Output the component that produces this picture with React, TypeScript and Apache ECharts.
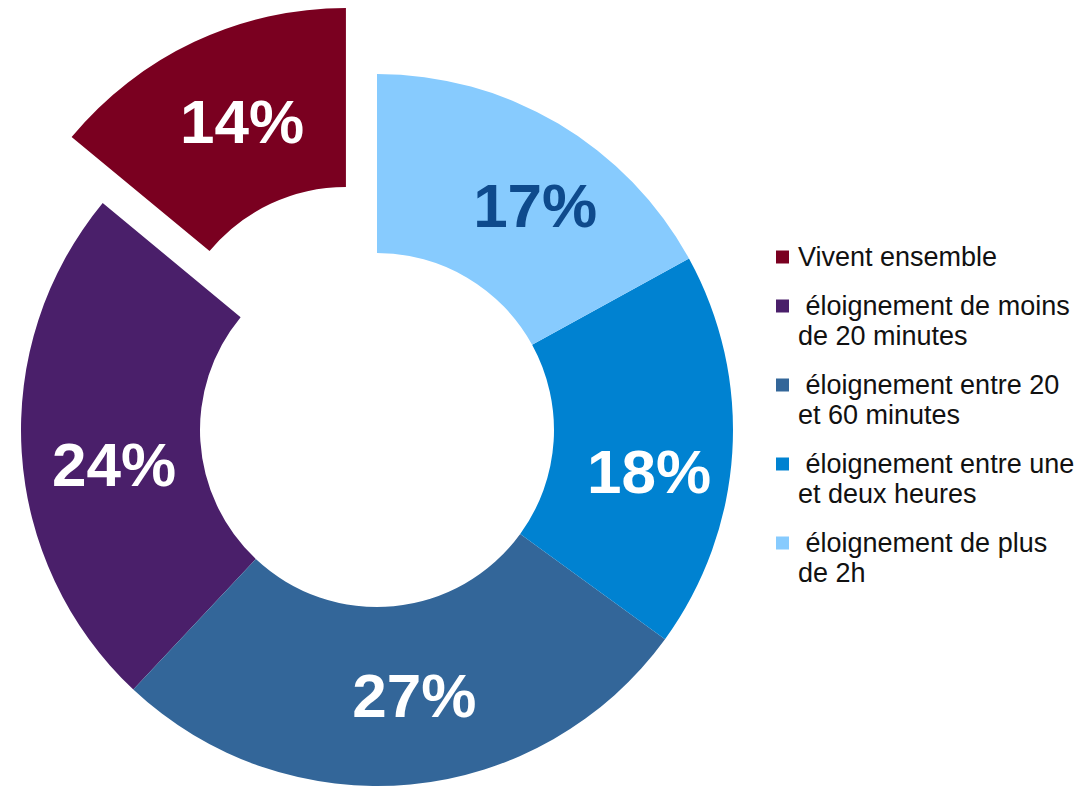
import React, { useEffect, useRef } from "react";
import * as echarts from "echarts";

const categories = [
  "Vivent ensemble",
  "éloignement de moins de 20 minutes",
  "éloignement entre 20 et 60 minutes",
  "éloignement entre une et deux heures",
  "éloignement de plus de 2h",
];
const legendLines = [
  ["Vivent ensemble"],
  [" éloignement de moins", "de 20 minutes"],
  [" éloignement entre 20", "et 60 minutes"],
  [" éloignement entre une", "et deux heures"],
  [" éloignement de plus", "de 2h"],
];
const values = [14, 24, 27, 18, 17];
const colors = ["#7A0020", "#4A1F6A", "#336699", "#0082D1", "#87CBFE"];
const labelColors = ["#FFFFFF", "#FFFFFF", "#FFFFFF", "#FFFFFF", "#0E4A8C"];
// label nudges [dx, dy] in px
const labelShift = [
  [11, 1],
  [6, 18],
  [12, -3],
  [3, 25],
  [21, 7],
];

const FONT = "'Liberation Sans', Arial, Helvetica, sans-serif";

export default function App() {
  const ref = useRef<HTMLDivElement>(null);
  useEffect(() => {
    if (!ref.current) return;
    const chart = echarts.init(ref.current, null, { renderer: "svg" });
    const rich: any = {
      g: { width: 9, height: 13 },
      s: { width: 22, height: 13 },
      t: { fontSize: 27, lineHeight: 30, color: "#111111", fontFamily: FONT },
    };
    colors.forEach((c, i) => {
      rich["b" + i] = { width: 13, height: 13, backgroundColor: c };
    });
    chart.setOption({
      animation: false,
      backgroundColor: "#FFFFFF",
      legend: {
        orient: "vertical",
        left: 771,
        top: 242,
        padding: 0,
        itemGap: 19,
        itemWidth: 0,
        itemHeight: 0,
        itemStyle: { opacity: 0 },
        selectedMode: false,
        data: categories,
        formatter: (name: string) => {
          const i = categories.indexOf(name);
          const lines = legendLines[i];
          let s = `{b${i}| }{g| }{t|${lines[0]}}`;
          for (let k = 1; k < lines.length; k++) s += `\n{s| }{t|${lines[k]}}`;
          return s;
        },
        textStyle: { rich, fontFamily: FONT, fontSize: 27, lineHeight: 30 },
      },
      series: [
        {
          type: "pie",
          center: [377, 430],
          radius: [177, 356],
          startAngle: 90,
          clockwise: false,
          selectedMode: "single",
          selectedOffset: 73,
          avoidLabelOverlap: false,
          emphasis: { disabled: true },
          label: {
            show: true,
            position: "inside",
            fontSize: 62,
            fontWeight: "bold",
            fontFamily: FONT,
            formatter: (p: any) => `${p.value}%`,
          },
          labelLayout: (params: any) => ({
            dx: labelShift[params.dataIndex][0],
            dy: labelShift[params.dataIndex][1],
          }),
          labelLine: { show: false },
          data: categories.map((name, i) => ({
            name,
            value: values[i],
            selected: i === 0,
            itemStyle: { color: colors[i] },
            label: { color: labelColors[i] },
          })),
        },
      ],
    });
    return () => chart.dispose();
  }, []);
  return (
    <div
      ref={ref}
      style={{ position: "fixed", left: 0, top: 0, width: 1076, height: 787 }}
    />
  );
}
